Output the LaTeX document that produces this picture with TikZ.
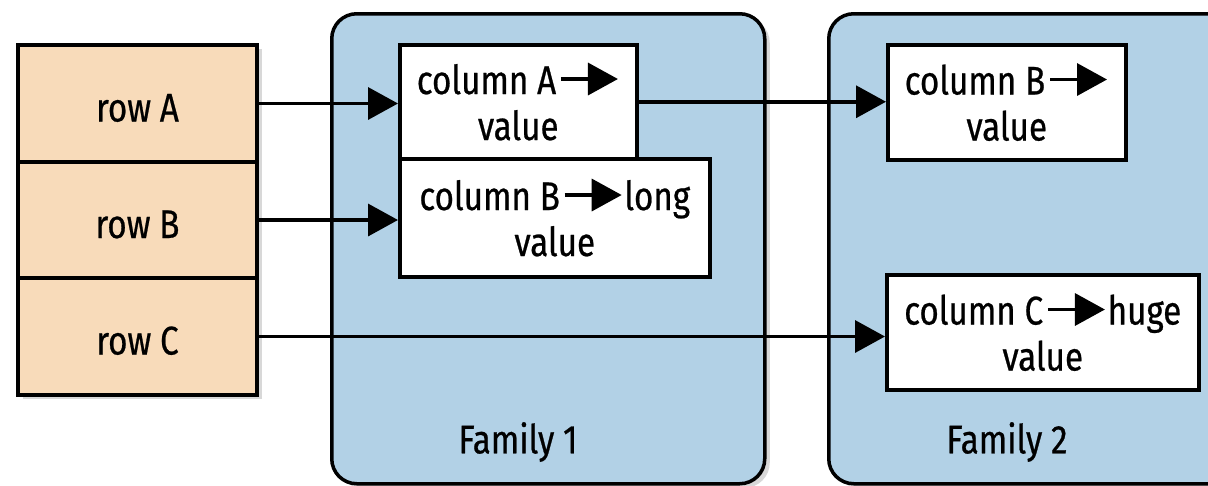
\documentclass[tikz,border=0pt]{standalone}
\usepackage{fontspec}
\setmainfont[FakeStretch=0.83,FakeBold=0.6]{Fira Sans}
\usetikzlibrary{arrows.meta,shadows}
\definecolor{rowfill}{RGB}{248,219,186}
\definecolor{famfill}{RGB}{178,209,230}
\newcommand\txtarrow{\tikz[baseline=-15pt]\draw[line width=3.5pt,-{Triangle[length=30pt,width=32pt]}] (0pt,0pt) -- (57pt,0pt);}
\begin{document}
\begin{tikzpicture}[x=1pt,y=-1pt,
  font=\fontsize{40}{46}\selectfont,
  shad/.style={drop shadow={shadow xshift=5pt,shadow yshift=-4pt,opacity=0.3}},
  rowbox/.style={draw,line width=3.5pt,fill=rowfill,inner sep=0pt,minimum width=239pt,text height=36pt,text depth=0pt,shad},
  box/.style={draw,line width=3.5pt,fill=white,inner sep=0pt,align=center,anchor=north west},
  fam/.style={draw,line width=3.5pt,fill=famfill,rounded corners=25pt,inner sep=0pt,anchor=north west,shad},
  conn/.style={line width=3.5pt,-{Triangle[length=30pt,width=32pt]}}]
\useasboundingbox[fill=white] (0,0) rectangle (1208,485);
% families
\node[fam,minimum width=433pt,minimum height=470pt] (f1) at (330,12) {};
\node[fam,minimum width=420pt,minimum height=470pt] (f2) at (827,12) {};
\node (f1l) at (518,442) {Family 1};
\node (f2l) at (1007,442) {Family 2};
% rows
\node[rowbox,minimum height=117pt] (rA) at (137.5,103.5) {row A};
\node[rowbox,minimum height=116pt] (rB) at (137.5,220) {row B};
\node[rowbox,minimum height=117pt] (rC) at (137.5,336.5) {row C};
% cells
\node[box,minimum width=237pt,minimum height=114pt] (cA) at (398,43) {column A\kern3pt\txtarrow\\value};
\node[box,minimum width=310pt,minimum height=118pt] (cBl) at (398,157) {column B\kern3pt\txtarrow\kern1pt long\\value};
\node[box,minimum width=238pt,minimum height=115pt] (c2B) at (886,43) {column B\kern3pt\txtarrow\\value};
\node[box,minimum width=312pt,minimum height=115pt] (cC) at (885,273) {column C\kern3pt\txtarrow\kern1pt huge\\value};
% connectors
\draw[conn] (rA.east) -- (rA.east -| cA.west);
\draw[conn] (rB.east) -- (rB.east -| cBl.west);
\draw[conn] (rC.east) -- (rC.east -| cC.west);
\draw[conn] (cA.east) -- (cA.east -| c2B.west);
\end{tikzpicture}
\end{document}
